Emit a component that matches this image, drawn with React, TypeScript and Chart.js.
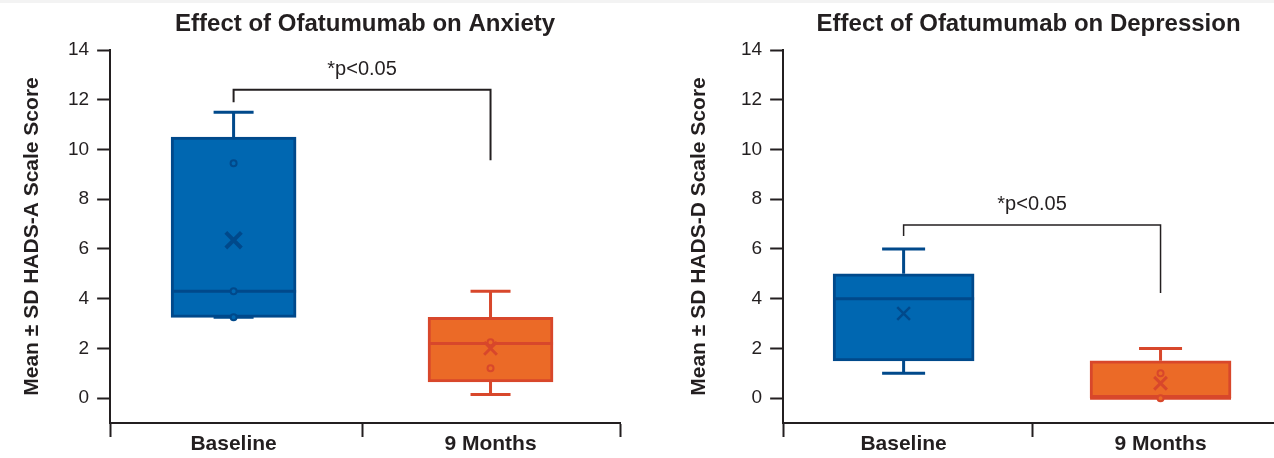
import React, { useEffect, useRef } from 'react';
import { Chart, registerables } from 'chart.js';

Chart.register(...registerables);
Chart.defaults.font.family = '"Liberation Sans", Arial, Helvetica, sans-serif';
Chart.defaults.color = '#231f20';

const INK = '#231f20';

// ---- shared ----
const categories = ['Baseline', '9 Months'];
const categoryPositions = [0, 1];
const yTickValues = [0, 2, 4, 6, 8, 10, 12, 14];
const yMin = -1;
const yMax = 14;
const sigText = '*p<0.05';
const bracketX = [0, 0, 1, 1];
const sigLabelX = 0.5;

// ---- Anxiety (HADS-A) ----
const anxietyMin = [3.25, 0.15];
const anxietyQ1 = [3.25, 0.65];
const anxietyMedian = [4.3, 2.2];
const anxietyQ3 = [10.5, 3.25];
const anxietyMax = [11.5, 4.3];
const anxietyMean = [6.35, 2.0];
const anxietyPointsBaseline = [9.45, 4.3, 3.25];
const anxietyPoints9Months = [2.25, 1.2];
const anxietyBracketY = [11.9, 12.4, 12.4, 9.57];
const anxietySigY = 13.2;

// ---- Depression (HADS-D) ----
const depressionMin = [1.0, 0.0];
const depressionQ1 = [1.5, 0.0];
const depressionMedian = [4.0, 0.0];
const depressionQ3 = [5.0, 1.5];
const depressionMax = [6.0, 2.0];
const depressionMean = [3.4, 0.6];
const depressionPointsBaseline: number[] = [];
const depressionPoints9Months = [1.0, 0.0];
const depressionBracketY = [6.52, 6.96, 6.96, 4.23];
const depressionSigY = 7.77;

const boxFill = ['#0067b1', '#eb6a27'];
const boxEdge = ['#00498b', '#d8472b'];

const whiskerPlugin = {
  id: 'boxWhiskers',
  afterDatasetDraw(chart: any, args: any, opts: any) {
    if (args.meta.type !== 'bar') return;
    const { ctx } = chart;
    const xs = chart.scales.x;
    const ys = chart.scales.y;
    ctx.save();
    ctx.lineCap = 'butt';
    args.meta.data.forEach((bar: any, i: number) => {
      const cx = xs.getPixelForValue(categoryPositions[i]);
      const half = bar.width / 2;
      const cap = opts.capHalf;
      ctx.strokeStyle = boxEdge[i];
      ctx.lineWidth = opts.lineWidth;
      const pMin = ys.getPixelForValue(opts.min[i]);
      const pQ1 = ys.getPixelForValue(opts.q1[i]);
      const pMed = ys.getPixelForValue(opts.median[i]);
      const pQ3 = ys.getPixelForValue(opts.q3[i]);
      const pMax = ys.getPixelForValue(opts.max[i]);
      ctx.beginPath();
      ctx.moveTo(cx, pQ3);
      ctx.lineTo(cx, pMax);
      ctx.moveTo(cx - cap, pMax);
      ctx.lineTo(cx + cap, pMax);
      ctx.moveTo(cx, pQ1);
      ctx.lineTo(cx, pMin);
      ctx.moveTo(cx - cap, pMin);
      ctx.lineTo(cx + cap, pMin);
      ctx.moveTo(cx - half, pMed);
      ctx.lineTo(cx + half, pMed);
      ctx.stroke();
    });
    ctx.restore();
  },
};

const sigPlugin = {
  id: 'sigLabel',
  afterDatasetsDraw(chart: any, _args: any, opts: any) {
    const { ctx } = chart;
    ctx.save();
    ctx.font = '20px "Liberation Sans", Arial, sans-serif';
    ctx.fillStyle = INK;
    ctx.textAlign = 'center';
    ctx.textBaseline = 'middle';
    ctx.fillText(
      opts.text,
      chart.scales.x.getPixelForValue(opts.x),
      chart.scales.y.getPixelForValue(opts.y)
    );
    ctx.restore();
  },
};

type PanelProps = {
  title: string;
  yTitle: string;
  min: number[];
  q1: number[];
  median: number[];
  q3: number[];
  max: number[];
  mean: number[];
  pointsBaseline: number[];
  points9Months: number[];
  bracketY: number[];
  sigY: number;
  xMin: number;
  xMax: number;
  dividers: number[];
  padLeft: number;
  padRight: number;
  yTitlePadBottom: number;
  boxWidth: number;
  capHalf: number;
  meanRadius: number[];
  meanWidth: number[];
  bracketWidth: number;
};

function Panel(p: PanelProps) {
  const ref = useRef<HTMLCanvasElement | null>(null);
  useEffect(() => {
    if (!ref.current) return;
    const xTicks = [p.xMin, 0, 0.5, 1, p.xMax];
    const chart = new Chart(ref.current, {
      type: 'scatter',
      data: {
        datasets: [
          {
            type: 'bar',
            data: categoryPositions.map((x, i) => ({ x, y: [p.q1[i], p.q3[i]] })),
            backgroundColor: boxFill,
            borderColor: boxEdge,
            borderWidth: 3,
            borderSkipped: false,
            barThickness: p.boxWidth,
            order: 10,
          } as any,
          {
            type: 'scatter',
            data: p.pointsBaseline.map((y) => ({ x: categoryPositions[0], y })),
            pointStyle: 'circle',
            pointRadius: 3,
            pointBorderWidth: 2,
            pointBackgroundColor: boxFill[0],
            pointBorderColor: boxEdge[0],
            order: 1,
          },
          {
            type: 'scatter',
            data: p.points9Months.map((y) => ({ x: categoryPositions[1], y })),
            pointStyle: 'circle',
            pointRadius: 3,
            pointBorderWidth: 2,
            pointBackgroundColor: boxFill[1],
            pointBorderColor: boxEdge[1],
            order: 1,
          },
          {
            type: 'scatter',
            data: categoryPositions.map((x, i) => ({ x, y: p.mean[i] })),
            pointStyle: 'crossRot',
            pointRadius: p.meanRadius,
            pointBorderWidth: p.meanWidth,
            pointBorderColor: boxEdge,
            pointBackgroundColor: boxEdge,
            order: 0,
          },
          {
            type: 'line',
            data: bracketX.map((x, i) => ({ x, y: p.bracketY[i] })),
            borderColor: INK,
            borderWidth: p.bracketWidth,
            borderJoinStyle: 'miter',
            pointRadius: 0,
            fill: false,
            tension: 0,
            order: 0,
          } as any,
        ],
      },
      options: {
        animation: false,
        responsive: false,
        devicePixelRatio: 1,
        events: [],
        layout: {
          autoPadding: false,
          padding: { left: p.padLeft, right: p.padRight, top: 0, bottom: 5.8 },
        },
        plugins: {
          legend: { display: false },
          tooltip: { enabled: false },
          title: {
            display: true,
            text: p.title,
            fullSize: false,
            color: INK,
            font: { size: 24, weight: 'bold' },
            padding: { top: 10.3, bottom: 10.9 },
          },
          boxWhiskers: {
            min: p.min,
            q1: p.q1,
            median: p.median,
            q3: p.q3,
            max: p.max,
            lineWidth: 3,
            capHalf: p.capHalf,
          },
          sigLabel: { text: sigText, x: sigLabelX, y: p.sigY },
        } as any,
        scales: {
          x: {
            type: 'linear',
            min: p.xMin,
            max: p.xMax,
            offset: false,
            afterBuildTicks: (axis: any) => {
              axis.ticks = xTicks.map((v) => ({ value: v }));
            },
            ticks: {
              autoSkip: false,
              maxRotation: 0,
              minRotation: 0,
              padding: -5,
              color: INK,
              font: { size: 21, weight: 'bold' },
              callback: (v: any) => {
                const idx = categoryPositions.indexOf(Number(v));
                return idx >= 0 ? categories[idx] : '';
              },
            },
            grid: {
              offset: false,
              drawOnChartArea: false,
              drawTicks: true,
              tickLength: 14,
              tickWidth: 2,
              tickColor: (ctx: any) =>
                ctx.tick && p.dividers.includes(ctx.tick.value) ? INK : 'rgba(0,0,0,0)',
            },
            border: { display: true, color: INK, width: 2 },
          },
          y: {
            type: 'linear',
            min: yMin,
            max: yMax,
            afterBuildTicks: (axis: any) => {
              axis.ticks = yTickValues.map((v) => ({ value: v }));
            },
            ticks: { color: INK, padding: 8, font: { size: 19 } },
            grid: {
              drawOnChartArea: false,
              drawTicks: true,
              tickLength: 13,
              tickWidth: 2,
              tickColor: INK,
            },
            border: { display: true, color: INK, width: 2 },
            title: {
              display: true,
              text: p.yTitle,
              color: INK,
              font: { size: 21, weight: 'bold' },
              padding: { top: 4, bottom: p.yTitlePadBottom },
            },
          },
        } as any,
      },
      plugins: [whiskerPlugin, sigPlugin],
    });
    return () => chart.destroy();
  }, []);
  return <canvas ref={ref} width={637} height={458} style={{ display: 'block' }} />;
}

export default function App() {
  return (
    <div
      style={{
        position: 'absolute',
        left: 0,
        top: 0,
        width: 1274,
        height: 458,
        background: '#ffffff',
        overflow: 'hidden',
      }}
    >
      <div style={{ position: 'absolute', left: 0, top: 0, width: 1274, height: 3, background: '#f3f3f3' }} />
      <div style={{ position: 'absolute', left: 0, top: 0, width: 637, height: 458 }}>
        <Panel
          title="Effect of Ofatumumab on Anxiety"
          yTitle="Mean ± SD HADS-A Scale Score"
          min={anxietyMin}
          q1={anxietyQ1}
          median={anxietyMedian}
          q3={anxietyQ3}
          max={anxietyMax}
          mean={anxietyMean}
          pointsBaseline={anxietyPointsBaseline}
          points9Months={anxietyPoints9Months}
          bracketY={anxietyBracketY}
          sigY={anxietySigY}
          xMin={-0.4805}
          xMax={1.5039}
          dividers={[-0.4805, 0.5, 1.5039]}
          padLeft={15.4}
          padRight={17}
          yTitlePadBottom={15.4}
          boxWidth={125}
          capHalf={20}
          meanRadius={[11, 9]}
          meanWidth={[4, 3]}
          bracketWidth={2}
        />
      </div>
      <div style={{ position: 'absolute', left: 637, top: 0, width: 637, height: 458 }}>
        <Panel
          title="Effect of Ofatumumab on Depression"
          yTitle="Mean ± SD HADS-D Scale Score"
          min={depressionMin}
          q1={depressionQ1}
          median={depressionMedian}
          q3={depressionQ3}
          max={depressionMax}
          mean={depressionMean}
          pointsBaseline={depressionPointsBaseline}
          points9Months={depressionPoints9Months}
          bracketY={depressionBracketY}
          sigY={depressionSigY}
          xMin={-0.4689}
          xMax={1.4416}
          dividers={[-0.4689, 0.5]}
          padLeft={45.4}
          padRight={0}
          yTitlePadBottom={21.4}
          boxWidth={141}
          capHalf={21.5}
          meanRadius={[9, 9]}
          meanWidth={[2.5, 3]}
          bracketWidth={1.5}
        />
      </div>
    </div>
  );
}
